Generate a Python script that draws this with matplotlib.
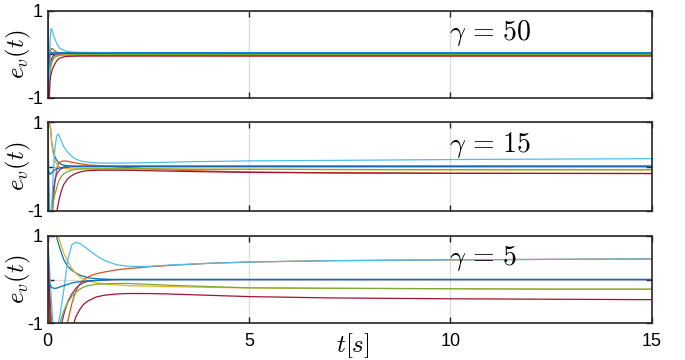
import numpy as np
import matplotlib
matplotlib.use("Agg")
import matplotlib.pyplot as plt

plt.rcParams['mathtext.fontset'] = 'cm'
plt.rcParams['font.family'] = ['Liberation Sans', 'DejaVu Sans']

# === Data (t in s, e_v(t)) ===
# gamma = 50
t_g50 = [0, .02, .04, .06, .08, .1, .12, .15, .2, .25, .3, .4, .5, .7, 1, 2, 5, 10, 15]
g50_blue1 = [1.0, 0.3, 0.08, 0.04, 0.03, 0.03, 0.03, 0.03, 0.03, 0.03, 0.03, 0.03, 0.03, 0.03, 0.03, 0.03, 0.03, 0.03, 0.03]
g50_orange = [-0.3, -0.6, -0.3, 0.0, 0.1, 0.13, 0.13, 0.1, 0.06, 0.03, 0.01, -0.01, -0.02, -0.03, -0.035, -0.035, -0.04, -0.04, -0.04]
g50_yellow = [0.5, -0.3, -0.45, -0.3, -0.2, -0.14, -0.1, -0.06, -0.03, -0.02, -0.015, -0.01, -0.01, -0.01, -0.01, -0.01, -0.01, -0.01, -0.01]
g50_purple = [-0.5, -0.9, -0.55, -0.3, -0.18, -0.1, -0.06, -0.03, -0.01, 0.0, 0.01, 0.02, 0.02, 0.02, 0.02, 0.02, 0.02, 0.02, 0.02]
g50_green = [0.0, -0.8, -0.6, -0.4, -0.28, -0.2, -0.15, -0.1, -0.06, -0.04, -0.03, -0.02, -0.015, -0.01, -0.01, -0.01, -0.01, -0.01, -0.01]
g50_lightblue = [1.0, -0.5, -0.9, 0.3, 0.58, 0.58, 0.52, 0.42, 0.3, 0.2, 0.14, 0.09, 0.06, 0.045, 0.04, 0.035, 0.035, 0.035, 0.035]
g50_red = [1.0, -1.2, -1.0, -0.6, -0.48, -0.4, -0.34, -0.27, -0.19, -0.12, -0.09, -0.06, -0.05, -0.045, -0.04, -0.04, -0.04, -0.04, -0.04]
g50_blue2 = [-1.0, -0.3, -0.05, 0.02, 0.03, 0.03, 0.03, 0.03, 0.03, 0.03, 0.03, 0.03, 0.03, 0.03, 0.03, 0.03, 0.03, 0.03, 0.03]

# gamma = 15
t_g15 = [0, .03, .06, .1, .14, .18, .22, .26, .3, .35, .4, .5, .6, .7, .85, 1.0, 1.3, 1.8, 2.5, 3.5, 5, 7, 10, 15]
g15_blue1 = [1.6, 1.3, 1.0, 0.55, 0.35, 0.22, 0.15, 0.1, 0.07, 0.05, 0.03, 0.02, 0.01, 0.01, 0.01, 0.01, 0.01, 0.01, 0.01, 0.01, 0.01, 0.01, 0.01, 0.01]
g15_orange = [0.5, -0.8, -1.6, -1.3, -0.8, -0.35, -0.08, 0.06, 0.1, 0.12, 0.13, 0.12, 0.1, 0.08, 0.06, 0.04, 0.02, -0.01, -0.05, -0.09, -0.12, -0.14, -0.15, -0.155]
g15_yellow = [1.8, 1.4, 1.0, 0.52, 0.28, 0.14, 0.06, 0.02, -0.01, -0.03, -0.04, -0.05, -0.05, -0.05, -0.05, -0.05, -0.05, -0.05, -0.05, -0.06, -0.06, -0.065, -0.07, -0.07]
g15_purple = [0.3, -1.0, -1.6, -1.0, -0.53, -0.3, -0.18, -0.12, -0.07, -0.04, -0.02, -0.01, 0.0, 0.0, 0.0, 0.0, 0.0, 0.0, 0.0, 0.0, 0.0, 0.0, 0.0, 0.0]
g15_green = [0.0, -1.2, -1.8, -1.1, -0.8, -0.62, -0.5, -0.36, -0.28, -0.21, -0.16, -0.11, -0.08, -0.06, -0.05, -0.05, -0.05, -0.05, -0.05, -0.06, -0.06, -0.065, -0.07, -0.07]
g15_lightblue = [1.0, -0.2, -1.3, -0.9, -0.1, 0.4, 0.68, 0.74, 0.66, 0.56, 0.45, 0.32, 0.23, 0.17, 0.12, 0.1, 0.08, 0.08, 0.09, 0.11, 0.13, 0.14, 0.16, 0.18]
g15_red = [1.0, -1.5, -2.2, -2.0, -1.7, -1.35, -1.05, -0.85, -0.68, -0.52, -0.4, -0.27, -0.2, -0.15, -0.11, -0.09, -0.08, -0.08, -0.09, -0.11, -0.13, -0.14, -0.15, -0.155]
g15_blue2 = [0.0, -0.12, -0.17, -0.14, -0.1, -0.07, -0.05, -0.04, -0.03, -0.02, -0.01, 0.0, 0.01, 0.01, 0.01, 0.01, 0.01, 0.01, 0.01, 0.01, 0.01, 0.01, 0.01, 0.01]

# gamma = 5
t_g5 = [0, .05, .1, .15, .2, .25, .3, .4, .5, .6, .7, .8, .9, 1.0, 1.2, 1.4, 1.7, 2.0, 2.5, 3.0, 4, 5, 7, 10, 12.5, 15]
g5_blue1 = [1.8, 1.6, 1.4, 1.2, 1.05, 0.88, 0.72, 0.45, 0.3, 0.21, 0.15, 0.1, 0.07, 0.04, 0.02, 0.01, 0.0, 0.0, 0.0, 0.0, 0.0, 0.0, 0.0, 0.0, 0.0, 0.0]
g5_orange = [0.5, -0.3, -1.0, -1.6, -2.0, -2.2, -2.2, -1.5, -0.95, -0.55, -0.26, -0.1, 0.0, 0.06, 0.13, 0.17, 0.22, 0.25, 0.29, 0.32, 0.37, 0.40, 0.43, 0.45, 0.46, 0.47]
g5_yellow = [2.0, 1.9, 1.7, 1.5, 1.25, 1.05, 0.88, 0.6, 0.42, 0.25, 0.14, 0.06, 0.0, -0.03, -0.07, -0.1, -0.12, -0.14, -0.15, -0.16, -0.18, -0.19, -0.2, -0.21, -0.22, -0.22]
g5_purple = [0.2, -0.8, -1.5, -1.8, -1.8, -1.6, -1.2, -0.8, -0.5, -0.33, -0.2, -0.12, -0.07, -0.04, -0.02, -0.01, 0.0, 0.0, 0.0, 0.0, 0.0, 0.0, 0.0, 0.0, 0.0, 0.0]
g5_green = [0.0, -1.3, -2.0, -2.0, -1.7, -1.3, -1.0, -0.72, -0.52, -0.38, -0.29, -0.22, -0.17, -0.14, -0.11, -0.1, -0.09, -0.09, -0.11, -0.13, -0.16, -0.19, -0.2, -0.21, -0.22, -0.22]
g5_lightblue = [1.0, 0.2, -0.6, -1.2, -1.4, -1.1, -0.85, -0.25, 0.45, 0.79, 0.85, 0.82, 0.76, 0.69, 0.55, 0.44, 0.34, 0.3, 0.3, 0.33, 0.37, 0.40, 0.43, 0.45, 0.46, 0.47]
g5_red = [1.0, -0.5, -2.0, -2.5, -2.6, -2.6, -2.5, -2.1, -1.6, -1.15, -0.85, -0.68, -0.56, -0.49, -0.4, -0.36, -0.33, -0.32, -0.32, -0.33, -0.36, -0.39, -0.42, -0.44, -0.45, -0.46]
g5_blue2 = [0.0, -0.12, -0.18, -0.2, -0.2, -0.19, -0.17, -0.14, -0.11, -0.08, -0.06, -0.05, -0.04, -0.03, -0.02, -0.01, 0.0, 0.0, 0.0, 0.0, 0.0, 0.0, 0.0, 0.0, 0.0, 0.0]

gammas = [50, 15, 5]

# MATLAB default line colours
colors = ['#0072BD', '#D95319', '#EDB120', '#7E2F8E', '#77AC30', '#4DBEEE', '#A2142F', '#0072BD']

panels = [
    (t_g50, [g50_blue1, g50_orange, g50_yellow, g50_purple, g50_green, g50_lightblue, g50_red, g50_blue2]),
    (t_g15, [g15_blue1, g15_orange, g15_yellow, g15_purple, g15_green, g15_lightblue, g15_red, g15_blue2]),
    (t_g5, [g5_blue1, g5_orange, g5_yellow, g5_purple, g5_green, g5_lightblue, g5_red, g5_blue2]),
]

# === Figure ===
fig = plt.figure(figsize=(6.85, 3.6), dpi=100)
boxes = [[0.0696, 0.7286, 0.8818, 0.2417],
         [0.0696, 0.4139, 0.8818, 0.2464],
         [0.0696, 0.1019, 0.8818, 0.2433]]

for k, (box, (t, series)) in enumerate(zip(boxes, panels)):
    ax = fig.add_axes(box)
    for y, c in zip(series, colors):
        ax.plot(t, y, color=c, linewidth=0.9)
    ax.set_xlim(0, 15)
    ax.set_ylim(-1, 1)
    ax.set_xticks([0, 5, 10, 15])
    ax.set_yticks([-1, 0, 1])
    ax.set_yticklabels(['-1', '', '1'])
    ax.grid(True, color='#dedede', linewidth=1.0)
    ax.set_axisbelow(True)
    ax.tick_params(direction='in', length=4, width=1, color='#262626',
                   top=True, right=True, labelsize=13)
    ax.tick_params(axis='x', pad=7)
    for s in ax.spines.values():
        s.set_color('#262626')
        s.set_linewidth(1.2)
    if k < 2:
        ax.set_xticklabels([])
    else:
        ax.set_xlabel(r'$t[s]$', fontsize=18, va='center')
        ax.xaxis.set_label_coords(0.505, -0.25)
    ax.set_ylabel(r'$e_v(t)$', fontsize=18, va='center')
    ax.yaxis.set_label_coords(-0.049, 0.5)
    ax.text(9.97, 0.33, r'$\gamma\,=\,%d$' % gammas[k], fontsize=20, ha='left', va='baseline')

fig.savefig('out.png', dpi=100)
